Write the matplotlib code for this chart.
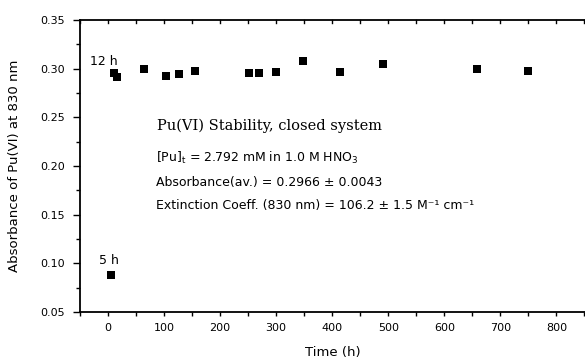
import matplotlib
matplotlib.use("Agg")
import matplotlib.pyplot as plt
from matplotlib.ticker import MultipleLocator

time_h = [5.3, 11, 16, 65, 103, 127, 155, 252, 270, 300, 348, 414, 491, 658, 749]
absorb = [0.0876, 0.2959, 0.2914, 0.2996, 0.2925, 0.2949, 0.2976, 0.2959, 0.2955,
          0.2969, 0.3078, 0.2966, 0.3051, 0.2996, 0.2979]

xticks = [0, 100, 200, 300, 400, 500, 600, 700, 800]
yticks = [0.05, 0.10, 0.15, 0.20, 0.25, 0.30, 0.35]

plt.rcParams['font.family'] = ['DejaVu Sans']
plt.rcParams['mathtext.fontset'] = 'dejavusans'

fig = plt.figure(figsize=(5.85, 3.63), dpi=100)
ax = fig.add_axes([80/585, 1-312/363, 1-80/585, (312-20)/363])

ax.plot(time_h, absorb, 's', color='black', markersize=5.6, markeredgewidth=0)

ax.set_xlim(-50, 851)
ax.set_ylim(0.05, 0.35)
ax.set_xticks(xticks)
ax.set_xticklabels([str(v) for v in xticks])
ax.set_yticks(yticks)
ax.set_yticklabels([f"{v:.2f}" for v in yticks])
ax.xaxis.set_minor_locator(MultipleLocator(50))
ax.yaxis.set_minor_locator(MultipleLocator(0.025))

ax.spines['right'].set_visible(False)
for s in ['left', 'bottom', 'top']:
    ax.spines[s].set_linewidth(1.3)

ax.tick_params(axis='y', which='major', direction='out', length=5, width=1.0,
               labelsize=8, pad=6)
ax.tick_params(axis='y', which='minor', direction='out', length=3, width=1.0)
ax.tick_params(axis='x', which='major', direction='out', length=3, width=1.0,
               labelsize=8, pad=5)
ax.tick_params(axis='x', which='minor', direction='out', length=3, width=1.0)
ax.tick_params(axis='x', which='both', top=False, labeltop=False)
ax.tick_params(axis='y', which='both', right=False)

# inward ticks on top spine
for xv in range(-50, 851, 50):
    ax.plot([xv, xv], [0.35, 0.347], color='black', lw=1.0, clip_on=False)

ax.set_xlabel("Time (h)", fontsize=9.5, labelpad=9)
ax.set_ylabel("Absorbance of Pu(VI) at 830 nm", fontsize=9.5, labelpad=14)

ax.text(-31.5, 0.3034, "12 h", fontsize=9, ha='left', va='baseline')
ax.text(-15.5, 0.0989, "5 h", fontsize=9, ha='left', va='baseline')

ax.text(87, 0.2415, "Pu(VI) Stability, closed system", fontsize=10.5,
        family='DejaVu Serif', ha='left', va='center')
ax.text(86, 0.2078, r"[Pu]$_{\mathregular{t}}$ = 2.792 mM in 1.0 M HNO$_{\mathregular{3}}$",
        fontsize=9, ha='left', va='center')
ax.text(86, 0.1835, "Absorbance(av.) = 0.2966 \u00b1 0.0043",
        fontsize=9, ha='left', va='center')
ax.text(86, 0.1595, "Extinction Coeff. (830 nm) = 106.2 \u00b1 1.5 M\u207b\u00b9 cm\u207b\u00b9",
        fontsize=9, ha='left', va='center')

fig.savefig("out.png", dpi=100)
